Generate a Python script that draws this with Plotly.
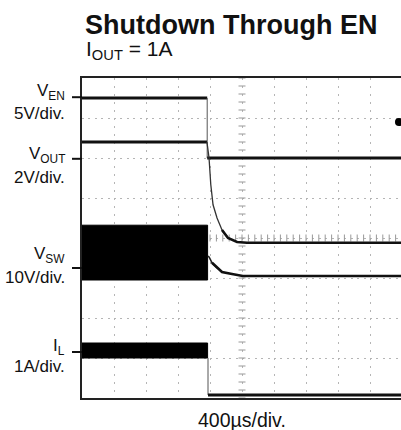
import numpy as np
import plotly.graph_objects as go

# ---------------- scope settings ----------------
TIME_PER_DIV_US = 400
N_XDIV = 10
N_YDIV = 8

# ---------------- labels ----------------
title_text = "Shutdown Through EN"
subtitle_text = "I<sub>OUT</sub> = 1A"
xlabel_text = "400µs/div."
channel_names = ["V<sub>EN</sub>", "V<sub>OUT</sub>", "V<sub>SW</sub>", "I<sub>L</sub>"]
channel_scales = ["5V/div.", "2V/div.", "10V/div.", "1A/div."]
channel_ref_div = [7.52, 5.98, 3.25, 1.15]   # channel ground markers (divisions)

# ---------------- traces (time in µs, level in divisions) ----------------
ven_t = [0, 1565, 1565, 4000]
ven_div = [7.5, 7.5, 6.0, 6.0]

vout_t = [0, 1562, 1588, 1610, 1638, 1688, 1750, 1825, 1938, 2062, 4000]
vout_div = [6.4, 6.4, 6.0, 5.33, 4.83, 4.5, 4.2, 4.0, 3.9, 3.88, 3.88]

vsw_band_t = [0, 1570]            # switching envelope before shutdown
vsw_band_div = [2.95, 4.32]       # bottom, top
vsw_t = [1575, 1590, 1625, 1690, 1750, 1875, 2010, 4000]
vsw_div = [3.55, 3.52, 3.38, 3.25, 3.15, 3.1, 3.05, 3.05]

il_band_t = [0, 1570]
il_band_div = [1.0, 1.375]
il_t = [1575, 1575, 4000]
il_div = [1.0, 0.075, 0.075]

trig_t = [3962]
trig_div = [6.9]

# ---------------- geometry ----------------
PL, PR, PT, PB = 82, 402, 78, 398          # plot box in page pixels
W, H = PR, 430
L, R, T, B = PL, 0, PT, H - PB
PW, PH = PR - PL, PB - PT


def px(xp):
    return (xp - PL) / PW


def py(yp):
    return (PB - yp) / PH


INK = "#111111"
THIN = "#555555"

fig = go.Figure()


def line(x, y, w, c=INK):
    fig.add_trace(go.Scatter(x=x, y=y, mode="lines", line=dict(color=c, width=w),
                             hoverinfo="skip", showlegend=False))


def band(t, d):
    fig.add_trace(go.Scatter(x=[t[0], t[1], t[1], t[0], t[0]],
                             y=[d[0], d[0], d[1], d[1], d[0]],
                             mode="lines", fill="toself", fillcolor="#000000",
                             line=dict(color="#000000", width=1),
                             hoverinfo="skip", showlegend=False))


# centre graticule ticks
cx = TIME_PER_DIV_US * N_XDIV / 2
cy = N_YDIV / 2
ty = np.arange(0, N_YDIV + 0.001, 0.2)
tx = np.arange(0, TIME_PER_DIV_US * N_XDIV + 1, TIME_PER_DIV_US / 5)
fig.add_trace(go.Scatter(x=[cx] * len(ty), y=ty, mode="markers",
                         marker=dict(symbol="line-ew", size=5, line=dict(width=1, color="#999")),
                         hoverinfo="skip", showlegend=False))
fig.add_trace(go.Scatter(x=tx, y=[cy] * len(tx), mode="markers",
                         marker=dict(symbol="line-ns", size=5, line=dict(width=1, color="#999")),
                         hoverinfo="skip", showlegend=False))

# V_SW and I_L switching envelopes
band(vsw_band_t, vsw_band_div)
band(il_band_t, il_band_div)

# V_EN
line(ven_t[0:2], ven_div[0:2], 3)
line(ven_t[1:3], ven_div[1:3], 1, THIN)
line(ven_t[2:4], ven_div[2:4], 3)

# V_OUT
line(vout_t[0:2], vout_div[0:2], 3)
line(vout_t[1:8], vout_div[1:8], 1.3, "#333")
line(vout_t[6:], vout_div[6:], 2.6)

# V_SW after shutdown
line(vsw_t[0:4], vsw_div[0:4], 1.6, "#222")
line(vsw_t[2:], vsw_div[2:], 2.6)

# I_L after shutdown
line(il_t[0:2], il_div[0:2], 1, THIN)
line(il_t[1:], il_div[1:], 3)

# trigger marker
fig.add_trace(go.Scatter(x=trig_t, y=trig_div, mode="markers",
                         marker=dict(symbol="circle", size=8, color="#000"),
                         hoverinfo="skip", showlegend=False))

FONT = "Liberation Sans, Arial, Helvetica, sans-serif"

shapes = []
ann = []
lbl_y_main = [92, 155, 255, 347]
lbl_y_scale = [113, 177, 277, 366]
for name, scale, ref, ym, ys in zip(channel_names, channel_scales, channel_ref_div,
                                    lbl_y_main, lbl_y_scale):
    shapes.append(dict(type="line", xref="paper", yref="y", x0=px(72), x1=px(82),
                       y0=ref, y1=ref, line=dict(color="#111", width=2)))
    ann.append(dict(text=name, xref="paper", yref="paper", x=px(67), y=py(ym),
                    xanchor="right", yanchor="middle", showarrow=False,
                    font=dict(family=FONT, size=17, color="#111")))
    ann.append(dict(text=scale, xref="paper", yref="paper", x=px(67), y=py(ys),
                    xanchor="right", yanchor="middle", showarrow=False,
                    font=dict(family=FONT, size=17, color="#111")))

ann.append(dict(text="<b>" + title_text + "</b>", xref="paper", yref="paper",
                x=px(83), y=py(25), xanchor="left", yanchor="middle", showarrow=False,
                font=dict(family=FONT, size=27, color="#111")))
ann.append(dict(text=subtitle_text, xref="paper", yref="paper",
                x=px(84), y=py(50), xanchor="left", yanchor="middle", showarrow=False,
                font=dict(family=FONT, size=21, color="#111")))
ann.append(dict(text=xlabel_text, xref="paper", yref="paper",
                x=px(242), y=py(420), xanchor="center", yanchor="middle", showarrow=False,
                font=dict(family=FONT, size=19.5, color="#111")))

fig.update_layout(
    width=W, height=H,
    margin=dict(l=L, r=R, t=T, b=B, pad=0),
    paper_bgcolor="white", plot_bgcolor="white",
    shapes=shapes, annotations=ann,
    xaxis=dict(range=[0, TIME_PER_DIV_US * N_XDIV],
               tickvals=[i * TIME_PER_DIV_US for i in range(N_XDIV + 1)],
               showticklabels=False, ticks="", showgrid=True, gridcolor="#b5b5b5",
               griddash="2px,6px", gridwidth=1, zeroline=False,
               showline=True, mirror=True, linecolor="#222", linewidth=2, fixedrange=True),
    yaxis=dict(range=[0, N_YDIV], tickvals=list(range(N_YDIV + 1)),
               showticklabels=False, ticks="", showgrid=True, gridcolor="#b5b5b5",
               griddash="2px,4.4px", gridwidth=1, zeroline=False,
               showline=True, mirror=False, linecolor="#222", linewidth=2, fixedrange=True),
)

fig.write_html("out.html", config={"displayModeBar": False},
               post_script="document.body.style.margin='0';"
                           "document.body.style.overflow='hidden';")
